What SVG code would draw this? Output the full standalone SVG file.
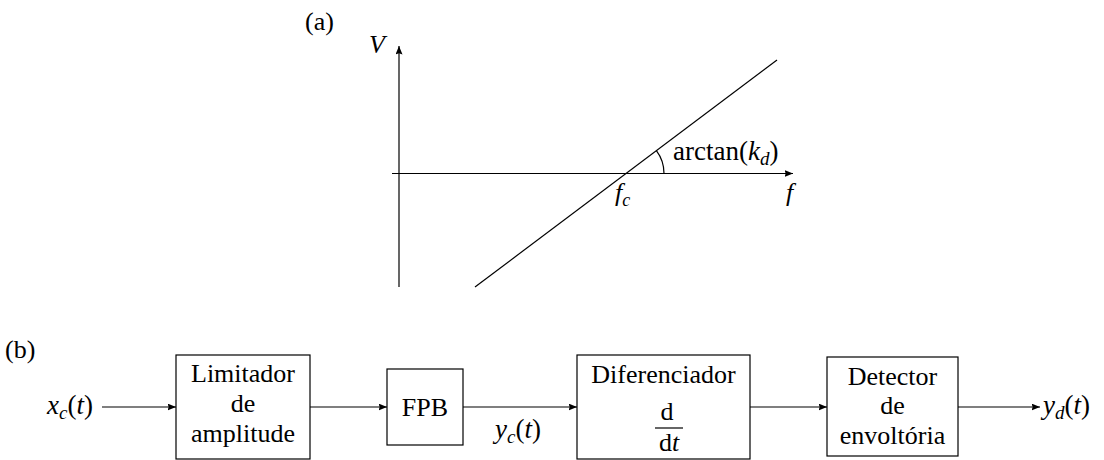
<svg xmlns="http://www.w3.org/2000/svg" width="1104" height="460" viewBox="0 0 1104 460">
<defs>
<style>
text{font-family:"Liberation Serif","Times New Roman",serif;fill:#000}
.ln{stroke:#000;stroke-width:1.2;fill:none}
.box{stroke:#000;stroke-width:1.2;fill:#fff}
.arr{stroke:#000;stroke-width:1.2;fill:none;marker-end:url(#tip)}
</style>
<marker id="tip" markerUnits="userSpaceOnUse" markerWidth="9" markerHeight="7" refX="8.5" refY="3.5" orient="auto">
<path d="M0,0 L8.5,3.5 L0,7 L1.2,3.5 z" fill="#000"/>
</marker>
</defs>

<g id="plot">
<text x="305" y="30" font-family="Liberation Serif" font-size="26">(a)</text>
<line class="arr" x1="399" y1="287" x2="399" y2="46"/>
<line class="arr" x1="392" y1="173.5" x2="793" y2="173.5"/>
<line class="ln" x1="475" y1="287" x2="777" y2="60"/>
<path class="ln" d="M664,173.5 A38,38 0 0 0 656.4,150.7"/>
<text x="369" y="53" font-family="Liberation Serif" font-size="26" font-style="italic">V</text>
<text x="615" y="201" font-family="Liberation Serif" font-size="26" font-style="italic">f<tspan font-size="18" dy="5">c</tspan></text>
<text x="786" y="201" font-family="Liberation Serif" font-size="26" font-style="italic">f</text>
<text x="673" y="160" font-family="Liberation Serif" font-size="27">arctan(<tspan font-style="italic">k</tspan><tspan font-style="italic" font-size="19" dy="5">d</tspan><tspan dy="-5">)</tspan></text>
</g>

<text x="5" y="358" font-family="Liberation Serif" font-size="26">(b)</text>

<g id="connectors">
<line class="arr" x1="102" y1="407" x2="176" y2="407"/>
<line class="arr" x1="310" y1="407" x2="387" y2="407"/>
<line class="arr" x1="463" y1="407" x2="577" y2="407"/>
<line class="arr" x1="750" y1="407" x2="827" y2="407"/>
<line class="arr" x1="958" y1="407" x2="1040" y2="407"/>
</g>

<g id="input">
<text x="93" y="414" text-anchor="end" font-family="Liberation Serif" font-size="27"><tspan font-style="italic">x</tspan><tspan font-style="italic" font-size="19" dy="5">c</tspan><tspan dy="-5">(</tspan><tspan font-style="italic">t</tspan>)</text>
</g>

<g id="limitador">
<rect class="box" x="176" y="355" width="134" height="104"/>
<text text-anchor="middle" x="243" y="382" font-family="Liberation Serif" font-size="26">Limitador</text>
<text text-anchor="middle" x="243" y="412" font-family="Liberation Serif" font-size="26">de</text>
<text text-anchor="middle" x="243" y="441.5" font-family="Liberation Serif" font-size="26">amplitude</text>
</g>

<g id="fpb">
<rect class="box" x="387" y="369" width="76" height="76"/>
<text text-anchor="middle" x="425" y="415.5" font-family="Liberation Serif" font-size="26">FPB</text>
</g>

<g id="yc">
<text text-anchor="middle" x="518" y="438" font-family="Liberation Serif" font-size="27"><tspan font-style="italic">y</tspan><tspan font-style="italic" font-size="19" dy="5">c</tspan><tspan dy="-5">(</tspan><tspan font-style="italic">t</tspan>)</text>
</g>

<g id="diferenciador">
<rect class="box" x="577" y="355" width="173" height="104"/>
<text text-anchor="middle" x="663.5" y="382.5" font-family="Liberation Serif" font-size="26">Diferenciador</text>
<text text-anchor="middle" x="667" y="420" font-family="Liberation Serif" font-size="26">d</text>
<line class="ln" x1="655" y1="428" x2="683" y2="428"/>
<text text-anchor="middle" x="669" y="451" font-family="Liberation Serif" font-size="26">d<tspan font-style="italic">t</tspan></text>
</g>

<g id="detector">
<rect class="box" x="827" y="357" width="131" height="99"/>
<text text-anchor="middle" x="892.5" y="384.5" font-family="Liberation Serif" font-size="26">Detector</text>
<text text-anchor="middle" x="892.5" y="414" font-family="Liberation Serif" font-size="26">de</text>
<text text-anchor="middle" x="892.5" y="443.5" font-family="Liberation Serif" font-size="26">envoltória</text>
</g>

<g id="output">
<text x="1043" y="414" font-family="Liberation Serif" font-size="27"><tspan font-style="italic">y</tspan><tspan font-style="italic" font-size="19" dy="5">d</tspan><tspan dy="-5">(</tspan><tspan font-style="italic">t</tspan>)</text>
</g>
</svg>
